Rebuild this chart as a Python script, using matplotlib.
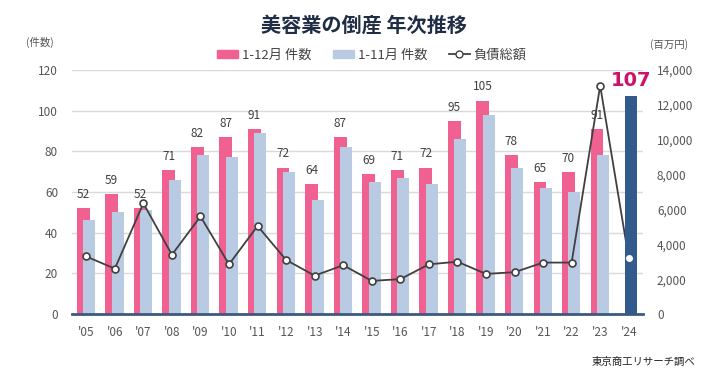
import matplotlib
matplotlib.use('Agg')
import matplotlib.pyplot as plt
from matplotlib.patches import Patch
from matplotlib.lines import Line2D

plt.rcParams['font.family'] = ['Noto Sans CJK JP', 'DejaVu Sans']

years = ["'05", "'06", "'07", "'08", "'09", "'10", "'11", "'12", "'13", "'14",
         "'15", "'16", "'17", "'18", "'19", "'20", "'21", "'22", "'23", "'24"]
cnt_full = [52, 59, 52, 71, 82, 87, 91, 72, 64, 87, 69, 71, 72, 95, 105, 78, 65, 70, 91]
cnt_nov = [46, 50, 51, 66, 78, 77, 89, 70, 56, 82, 65, 67, 64, 86, 98, 72, 62, 60, 78]
cnt_2024 = 107
debt = [3300, 2600, 6350, 3400, 5600, 2850, 5050, 3100, 2200, 2800,
        1900, 2000, 2850, 3000, 2300, 2400, 2950, 2950, 13100, 3200]

pink = '#F06090'
blue = '#B9CBE2'
navy = '#335A8C'
gray = '#404040'

fig = plt.figure(figsize=(7.26, 3.74), dpi=100)
ax = fig.add_axes([72/726, 60/374, 571/726, 244/374])

x = list(range(len(years)))
xp = [i - 0.11 for i in x[:-1]]
xb = [i + 0.1 for i in x[:-1]]

ax.bar(xp, cnt_full, width=0.45, color=pink, zorder=2)
ax.bar(xb, cnt_nov, width=0.42, color=blue, zorder=3)
for xi, v in zip(xp, cnt_full):
    ax.text(xi, v + 3.5, str(v), ha='center', va='bottom', fontsize=8.5, color=gray, zorder=5)

ax.set_xlim(-0.5, 19.5)
ax.set_ylim(0, 120)
ax.set_yticks(range(0, 121, 20))
ax.set_xticks(x)
ax.set_xticklabels(years)
ax.yaxis.grid(True, color='#DADADA', linewidth=1)
ax.set_axisbelow(True)
for s in ['top', 'left', 'right']:
    ax.spines[s].set_visible(False)
ax.spines['bottom'].set_color('#3C5A80')
ax.spines['bottom'].set_linewidth(2)
ax.spines['bottom'].set_zorder(6)
ax.tick_params(axis='both', length=0, labelsize=8.5, colors='#555555')
ax.tick_params(axis='y', pad=10)
ax.tick_params(axis='x', pad=9)

# right axis: debt line
ax2 = ax.twinx()
ax2.plot(x, debt, color=gray, linewidth=1.3, marker='o', markersize=5,
         markerfacecolor='white', markeredgecolor=gray, markeredgewidth=1.2)
ax2.set_ylim(0, 14000)
ax2.set_yticks(range(0, 14001, 2000))
ax2.set_yticklabels([f'{v:,}' for v in range(0, 14001, 2000)])
ax2.tick_params(axis='y', length=0, labelsize=8.5, colors='#555555', pad=10)
for s in ax2.spines.values():
    s.set_visible(False)

# 2024 bar on top of the line
ax3 = ax.twinx()
ax3.set_ylim(0, 120)
ax3.bar([x[-1] + 0.08], [cnt_2024], width=0.45, color=navy)
ax3.plot([x[-1]], [debt[-1]], 'o', color='white', markersize=4, transform=ax2.transData)
ax3.text(x[-1] + 0.08, cnt_2024 + 3, str(cnt_2024), ha='center', va='bottom',
         fontsize=14, fontweight='bold', color='#C8146A', family=['DejaVu Sans'])
ax3.set_yticks([])
for s in ax3.spines.values():
    s.set_visible(False)

fig.text(364/726, 1 - 25/374, '美容業の倒産 年次推移', ha='center', va='center',
         fontsize=14.5, fontweight='bold', color='#1F2D45')
fig.text(40/726, 1 - 42/374, '(件数)', ha='center', va='center', fontsize=7.5, color='#555555')
fig.text(669/726, 1 - 45/374, '(百万円)', ha='center', va='center', fontsize=7.5, color='#555555')
fig.text(695/726, 1 - 362/374, '東京商工リサーチ調べ', ha='right', va='center', fontsize=7.5, color='#222222')

handles = [Patch(color=pink), Patch(color=blue),
           Line2D([], [], color=gray, linewidth=1.3, marker='o', markersize=5,
                  markerfacecolor='white', markeredgecolor=gray)]
fig.legend(handles, ['1-12月 件数', '1-11月 件数', '負債総額'], loc='center',
           bbox_to_anchor=(372/726, 1 - 55/374), ncol=3, frameon=False, fontsize=9.5,
           handlelength=1.6, handleheight=0.5, handletextpad=0.3, columnspacing=1.6,
           labelcolor='#444444')

fig.savefig('out.png', dpi=100)
